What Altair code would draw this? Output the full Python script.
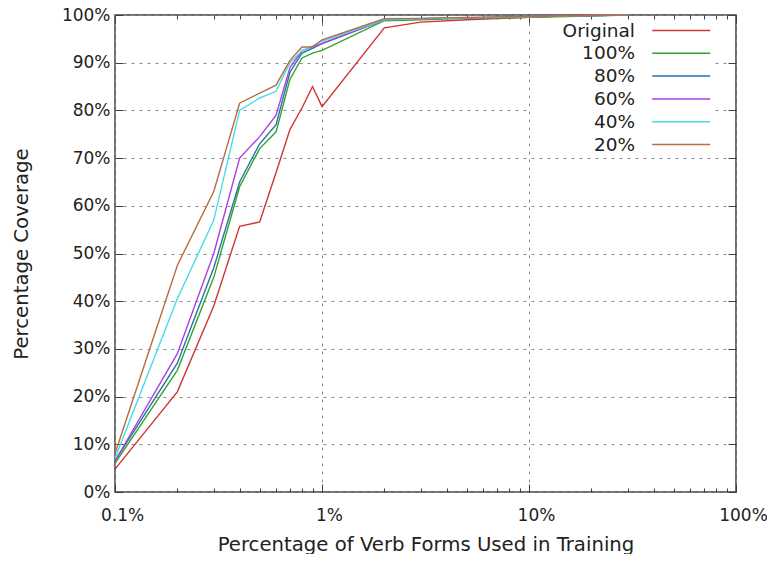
import altair as alt
import pandas as pd

# x positions: percentage of verb forms used in training
x_pct = [0.1, 0.2, 0.3, 0.4, 0.5, 0.6, 0.7, 0.8, 0.9, 1, 2, 3, 5, 10, 20, 30]

series_names = ["Original", "100%", "80%", "60%", "40%", "20%"]
original = [4.8, 21.0, 39.0, 55.7, 56.6, 67.0, 76.0, 80.5, 85.0, 80.8, 97.3, 98.5, 99.0, 99.5, 100, 100]
p100 = [6.0, 25.5, 45.0, 64.0, 72.0, 75.5, 86.5, 91.0, 92.0, 92.6, 98.8, 99.0, 99.3, 99.5, 99.8, 100]
p80 = [6.5, 27.0, 47.0, 65.0, 73.0, 77.0, 88.0, 92.0, 93.0, 94.0, 99.0, 99.2, 99.4, 99.6, 99.9, 100]
p60 = [6.5, 29.0, 50.0, 70.0, 74.5, 79.0, 89.0, 92.5, 93.3, 94.0, 99.0, 99.2, 99.4, 99.6, 99.9, 100]
p40 = [7.0, 40.5, 57.0, 80.0, 82.6, 84.0, 90.0, 92.5, 93.5, 94.5, 99.0, 99.2, 99.4, 99.6, 99.9, 100]
p20 = [8.0, 47.5, 63.0, 81.5, 83.6, 85.3, 90.5, 93.3, 93.3, 94.8, 99.2, 99.3, 99.5, 99.7, 99.9, 100]
colors = ["#d03434", "#2fa52f", "#2b72a8", "#b03ee0", "#45dde6", "#b86c40"]

x_major = [0.1, 1, 10, 100]
x_minor = [0.2, 0.3, 0.4, 0.5, 0.6, 0.7, 0.8, 0.9,
           2, 3, 4, 5, 6, 7, 8, 9,
           20, 30, 40, 50, 60, 70, 80, 90]
y_ticks = [0, 10, 20, 30, 40, 50, 60, 70, 80, 90, 100]

rows = []
for name, vals in zip(series_names, [original, p100, p80, p60, p40, p20]):
    for xv, yv in zip(x_pct, vals):
        rows.append({"x": xv, "y": yv, "series": name})
df = pd.DataFrame(rows)

FONT = "DejaVu Sans"
FS = 17
TFS = 19.7
LFS = 18.5
TXT = "#222222"
FRAME = "#404040"

xscale = alt.Scale(type="log", domain=[0.1, 100])
yscale = alt.Scale(domain=[0, 100])

main = alt.Chart(df).mark_line(strokeWidth=1.4).encode(
    x=alt.X("x:Q", scale=xscale,
            axis=alt.Axis(values=x_major, labelExpr="datum.value + '%'",
                          title="Percentage of Verb Forms Used in Training",
                          ticks=False, domain=False, grid=True,
                          labelFlush=False, labelOffset=7,
                          labelPadding=15, titlePadding=11)),
    y=alt.Y("y:Q", scale=yscale,
            axis=alt.Axis(values=y_ticks, labelExpr="datum.value + '%'",
                          title="Percentage Coverage",
                          ticks=False, domain=False, grid=True,
                          labelPadding=5, titlePadding=30)),
    color=alt.Color("series:N",
                    scale=alt.Scale(domain=series_names, range=colors),
                    sort=series_names,
                    legend=alt.Legend(title=None, orient="none",
                                      legendX=416, legendY=5,
                                      padding=0,
                                      symbolType="M-3,0H3", symbolSize=374,
                                      symbolStrokeWidth=1.5,
                                      labelAlign="right",
                                      labelOffset={"expr": "-56.7"},
                                      symbolOffset=139.7,
                                      rowPadding=2.8,
                                      labelFont=FONT, labelFontSize=LFS,
                                      labelColor=TXT,
                                      fillColor="white")),
)


def tick_layer(xaxis, yaxis):
    return alt.Chart(df).mark_point(opacity=0).encode(
        x=alt.X("x:Q", scale=xscale, axis=xaxis),
        y=alt.Y("y:Q", scale=yscale, axis=yaxis),
    )


def tax(orient, values, size):
    return alt.Axis(orient=orient, values=values, offset=-size, tickSize=size,
                    tickColor=FRAME, tickWidth=1, labels=False, grid=False,
                    domain=False, title=None)


l2 = tick_layer(tax("bottom", x_major, 8), tax("left", y_ticks, 8))
l3 = tick_layer(tax("bottom", x_minor, 4), tax("right", y_ticks, 8))
l4 = tick_layer(tax("top", x_major, 8), None)
l5 = tick_layer(tax("top", x_minor, 4), None)

chart = alt.layer(main, l2, l3, l4, l5).resolve_axis(
    x="independent", y="independent"
).properties(
    width=621, height=477,
    padding={"left": 107, "top": 7, "right": 31, "bottom": 62},
    autosize=alt.AutoSizeParams(type="none"),
).configure_view(
    stroke=FRAME, strokeWidth=1.5
).configure_axis(
    labelFont=FONT, labelFontSize=FS, labelColor=TXT,
    titleFont=FONT, titleFontSize=TFS, titleColor=TXT, titleFontWeight="normal",
    gridColor="#8a8a8a", gridDash=[3, 5], gridWidth=1,
)

chart.save("out.html", embed_options={"renderer": "svg", "actions": False})
